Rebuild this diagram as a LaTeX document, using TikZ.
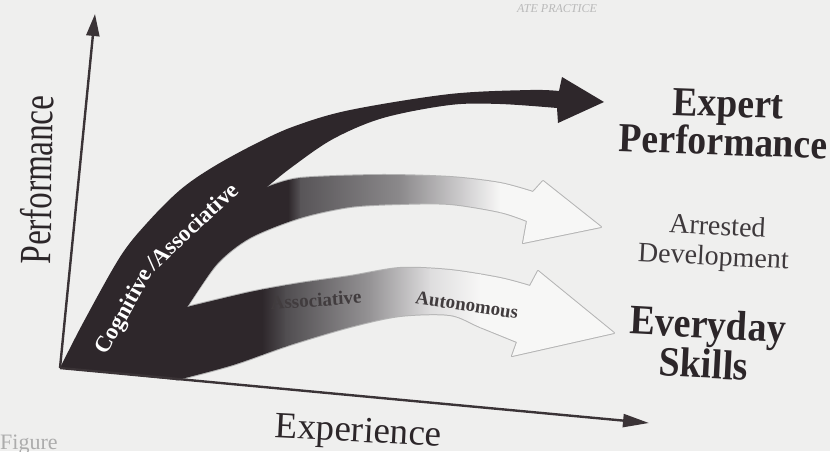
\documentclass[tikz,border=0pt]{standalone}
\usepackage{fontspec}
\setmainfont{Liberation Serif}
\usetikzlibrary{arrows.meta}
\definecolor{bgcol}{HTML}{EFEFEE}
\definecolor{bandDark}{HTML}{2E272B}
\definecolor{axiscol}{HTML}{3A3336}
\definecolor{inkcol}{HTML}{2C2629}
\definecolor{softink}{HTML}{3E393C}
\definecolor{arrowWhite}{HTML}{F7F7F6}
\definecolor{outlinecol}{HTML}{B4B4B4}
\definecolor{gA}{RGB}{88,85,88}
\definecolor{gB}{RGB}{140,138,140}
\definecolor{gC}{RGB}{215,214,215}
\definecolor{gD}{RGB}{80,77,80}
\definecolor{gE}{RGB}{150,148,150}
\definecolor{gF}{RGB}{222,221,222}
\begin{document}
\begin{tikzpicture}[x=1pt,y=-1pt,
  axisline/.style={draw=axiscol, line width=2.4pt},
  bandoutline/.style={draw=outlinecol, line width=2pt, line join=round},
  lbl/.style={text=inkcol, inner sep=0pt},
  boldlbl/.style={text=inkcol, inner sep=0pt, font=\fontsize{37.5}{37.5}\selectfont\bfseries},
  smalllbl/.style={text=softink, inner sep=0pt, font=\fontsize{28}{28}\selectfont},
  bandlbl/.style={text=inkcol!90, inner sep=0pt, font=\fontsize{19}{19}\selectfont\bfseries},
  whitelbl/.style={text=white, inner sep=0pt, font=\fontsize{23}{23}\selectfont\bfseries}]
\useasboundingbox (0,0) rectangle (830,451);
\fill[bgcol] (0,0) rectangle (830,451);

% --- outlines of the two lower arrows (drawn first, fills cover the inner half)
\path[bandoutline] (267,187) -- plot[smooth,tension=0.5] coordinates {(267,187) (300,178) (380,175) (450,177) (500,183) (533,192)} -- (543,181) -- (601,227) -- (523,243) -- plot[smooth,tension=0.5] coordinates {(527,221) (500,212) (450,204) (400,204) (350,207) (300,218) (250,238) (217,264) (187,307)} -- (172,290) -- (240,200) -- cycle;
\path[bandoutline] (187,307) -- plot[smooth,tension=0.5] coordinates {(187,307) (250,292) (300,283) (350,276) (400,268) (450,270) (500,278) (530,286)} -- (538,271) -- (614,333) -- (512,356) -- plot[smooth,tension=0.5] coordinates {(517,342) (480,327) (450,315) (400,316) (350,327) (290,345) (233,365) (177,380)} -- (150,362) -- (160,315) -- cycle;

% --- middle arrow (Arrested Development)
\begin{scope}
\clip (267,187) -- plot[smooth,tension=0.5] coordinates {(267,187) (300,178) (380,175) (450,177) (500,183) (533,192)} -- (543,181) -- (601,227) -- (523,243) -- plot[smooth,tension=0.5] coordinates {(527,221) (500,212) (450,204) (400,204) (350,207) (300,218) (250,238) (217,264) (187,307)} -- (172,290) -- (240,200) -- cycle;
\fill[bandDark] (150,150) rectangle (289,320);
\shade[left color=bandDark, right color=gA] (288,150) rectangle (301,320);
\shade[left color=gA, right color=gB] (300,150) rectangle (401,320);
\shade[left color=gB, right color=gC] (400,150) rectangle (471,320);
\shade[left color=gC, right color=arrowWhite] (470,150) rectangle (501,320);
\fill[arrowWhite] (500,150) rectangle (620,320);
\end{scope}

% --- lower arrow (Everyday Skills)
\begin{scope}
\clip (187,307) -- plot[smooth,tension=0.5] coordinates {(187,307) (250,292) (300,283) (350,276) (400,268) (450,270) (500,278) (530,286)} -- (538,271) -- (614,333) -- (512,356) -- plot[smooth,tension=0.5] coordinates {(517,342) (480,327) (450,315) (400,316) (350,327) (290,345) (233,365) (177,380)} -- (150,362) -- (160,315) -- cycle;
\fill[bandDark] (140,250) rectangle (263,390);
\shade[left color=bandDark, right color=gD] (262,250) rectangle (286,390);
\shade[left color=gD, right color=gE] (285,250) rectangle (371,390);
\shade[left color=gE, right color=gF] (370,250) rectangle (431,390);
\shade[left color=gF, right color=arrowWhite] (430,250) rectangle (481,390);
\fill[arrowWhite] (480,250) rectangle (630,390);
\end{scope}

% --- main dark band (Cognitive / Associative -> Expert Performance)
\fill[bandDark] plot[smooth,tension=0.55] coordinates {(60,368) (83,323) (120,257) (147,223) (180,190) (213,167) (257,143) (295,126) (350,110) (450,94) (530,90) (559,91)} -- (562,77) -- (604,102) -- (558,123) -- plot[smooth,tension=0.55] coordinates {(557,108) (500,104) (450,105) (383,118) (333,139) (292,167) (267,187)} -- (187,307) -- (177,380) -- cycle;

% --- axes
\coordinate (O) at (60,368);
\coordinate (Ytip) at (95,14);
\coordinate (Xtip) at (649,423);
\draw[axisline, -{Triangle[length=22pt,width=13pt]}] (O) -- (Ytip);
\draw[axisline, -{Triangle[length=26pt,width=13pt]}] (O) -- (Xtip);

% --- label on the main band
\node[whitelbl, rotate=61] (cog) at (125,312) {Cognitive};
\node[whitelbl, rotate=43] (assc) at (192,226) {/Associative};

% --- labels
\node[lbl, font=\fontsize{33}{33}\selectfont, rotate=89, anchor=base] (ylab) at (52,180) {\scalebox{1}[1.35]{Performance}};
\node[lbl, font=\fontsize{37}{37}\selectfont, rotate=-3, anchor=base] (xlab) at (358,442) {Experience};
\node[boldlbl, rotate=-2, anchor=base] (exp1) at (728,117) {\scalebox{1}[1.1]{Expert}};
\node[boldlbl, rotate=-2, anchor=base] (exp2) at (723,155) {\scalebox{1}[1.1]{Performance}};
\node[smalllbl, rotate=-3, anchor=base] (arr1) at (717,235) {Arrested};
\node[smalllbl, rotate=-3, anchor=base] (arr2) at (713,265) {Development};
\node[boldlbl, font=\fontsize{38}{38}\selectfont\bfseries, rotate=-3, anchor=base] (evd1) at (707,338) {\scalebox{1}[1.1]{Everyday}};
\node[boldlbl, font=\fontsize{38}{38}\selectfont\bfseries, rotate=-3, anchor=base] (evd2) at (703,378) {\scalebox{1}[1.1]{Skills}};
\node[bandlbl, rotate=4] (assoc) at (316,300) {Associative};
\node[bandlbl, rotate=-8.5] (auto) at (467,305) {Autonomous};

% --- page fragments
\node[text=gray!55, inner sep=0pt, font=\fontsize{12}{12}\selectfont\itshape] (hdr) at (557,9) {ATE PRACTICE};
\node[text=gray!65, inner sep=0pt, anchor=base west, font=\fontsize{22}{22}\selectfont] (fig) at (0,449) {Figure};
\end{tikzpicture}
\end{document}
